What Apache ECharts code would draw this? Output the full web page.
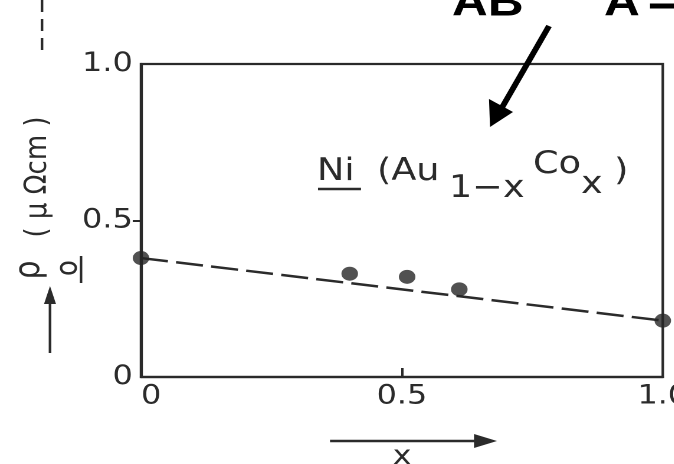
<!DOCTYPE html>
<html>
<head>
<meta charset="utf-8">
<script src="https://cdn.jsdelivr.net/npm/echarts@6/dist/echarts.min.js"></script>
<style>
  html, body { margin: 0; padding: 0; background: #ffffff; overflow: hidden; width: 674px; height: 464px; }
  /* the figure is set in a slightly extended (wide) face, so the drawing is widened as a whole */
  #chart { height: 464px; transform-origin: 0 0; }
</style>
</head>
<body>
<div id="chart"></div>
<script>
// Residual resistivity of Ni in Au(1-x)Co(x) hosts
const xTicks = [0, 0.5, 1.0];
const xTickLabels = ['0', '0.5', '1.0'];
const yTicks = [0, 0.5, 1.0];
const yTickLabels = ['0', '0.5', '1.0'];

// measured points
const concX = [0, 0.40, 0.51, 0.61, 1.0];
const rhoMeasured = [0.38, 0.33, 0.32, 0.28, 0.18];

// dashed trend line end points
const trendX = [0, 1.0];
const trendRho = [0.38, 0.18];

const WIDEN = 1.18;           // horizontal widening of the whole figure
const PAGE_W = 674;
const INK = '#2b2b2b';
const AXIS = '#2a2a2a';
const FONT = '"DejaVu Sans", sans-serif';

// page x position -> drawing x position (before widening)
const px = v => v / WIDEN;

const el = document.getElementById('chart');
el.style.width = (PAGE_W / WIDEN) + 'px';
el.style.transform = 'scaleX(' + WIDEN + ')';

function labelFor(ticks, labels) {
  return function (v) {
    for (let i = 0; i < ticks.length; i++) {
      if (Math.abs(ticks[i] - v) < 1e-9) return labels[i];
    }
    return '';
  };
}

function txt(x, y, text, size, align, extra) {
  return Object.assign({
    type: 'text', x: px(x), y: y,
    style: { text: text, fontSize: size, fontFamily: FONT, fill: INK, align: align || 'left', verticalAlign: 'middle' }
  }, extra || {});
}
function seg(x1, y1, x2, y2, w, color, dash) {
  const s = { stroke: color || INK, lineWidth: w || 2.2 };
  if (dash) s.lineDash = dash;
  return { type: 'line', shape: { x1: px(x1), y1: y1, x2: px(x2), y2: y2 }, style: s };
}
function tri(points, color) {
  return { type: 'polygon', shape: { points: points.map(p => [px(p[0]), p[1]]) }, style: { fill: color || INK } };
}

const chart = echarts.init(el, null, { renderer: 'canvas', devicePixelRatio: 2 });

const option = {
  backgroundColor: '#ffffff',
  animation: false,
  grid: {
    left: px(141), right: px(11), top: 64, bottom: 87,
    outerBoundsMode: 'none',
    containLabel: false,
    show: true, borderColor: AXIS, borderWidth: 2.2,
    backgroundColor: 'transparent'
  },
  xAxis: {
    type: 'value', min: 0, max: 1, interval: 0.5,
    axisLine: { show: true, lineStyle: { color: AXIS, width: 2.2 } },
    axisTick: { show: true, inside: true, length: 9, customValues: [0.5],
                lineStyle: { color: AXIS, width: 2 } },
    axisLabel: { show: true, margin: 6, fontSize: 27, color: INK, fontFamily: FONT,
                 alignMinLabel: 'left', hideOverlap: false,
                 formatter: labelFor(xTicks, xTickLabels) },
    splitLine: { show: false }
  },
  yAxis: {
    type: 'value', min: 0, max: 1, interval: 0.5,
    axisLine: { show: true, lineStyle: { color: AXIS, width: 2.2 } },
    axisTick: { show: true, inside: false, length: 7, customValues: [0.5],
                lineStyle: { color: AXIS, width: 2 } },
    axisLabel: { show: true, margin: 7, fontSize: 27, color: INK, fontFamily: FONT,
                 formatter: labelFor(yTicks, yTickLabels) },
    splitLine: { show: false }
  },
  series: [
    {
      type: 'line',
      data: trendX.map((x, i) => [x, trendRho[i]]),
      showSymbol: false,
      symbol: 'none',
      lineStyle: { color: INK, width: 2.5, type: [23, 7] },
      z: 2
    },
    {
      type: 'scatter',
      data: concX.map((x, i) => [x, rhoMeasured[i]]),
      symbol: 'circle',
      symbolSize: [14, 14],
      itemStyle: { color: '#262626' },
      clip: false,
      z: 3
    }
  ],
  graphic: [
    // y-axis title, reading upward
    txt(38, 177, '( μ Ωcm )', 26, 'center', { rotation: Math.PI / 2 }),
    txt(30, 270, 'ρ', 30, 'center', { rotation: Math.PI / 2 }),
    txt(69, 268, 'o', 26, 'center', { rotation: Math.PI / 2 }),
    seg(81, 256, 81, 283, 2.2),
    // upward arrow under the y title
    seg(50, 353, 50, 298, 2.2),
    tri([[50, 286], [44, 304], [56, 304]]),

    // x-axis title with arrow
    seg(330, 441, 482, 441, 2.5),
    tri([[497, 441], [474, 434], [474, 448]]),
    txt(402, 457, 'x', 27, 'center'),

    // system label: Ni (Au1-x Cox)
    txt(317, 172, 'Ni', 31),
    seg(318, 189, 361, 189, 2.5),
    txt(377, 172, '(Au', 31),
    txt(449, 189, '1−x', 31),
    txt(533, 165, 'Co', 31),
    txt(581, 185, 'x', 31),
    txt(614, 172, ')', 31),

    // pointer arrow from the heading
    seg(549, 26, 500, 111, 5, '#000'),
    tri([[490, 127], [489, 99], [513, 112]], '#000'),

    // heading (runs off the top edge)
    { type: 'text', x: px(452), y: 25,
      style: { text: 'AB', fontSize: 42, fontWeight: 'bold', fontFamily: '"Liberation Sans", sans-serif', fill: '#000', align: 'left', verticalAlign: 'bottom' } },
    { type: 'text', x: px(604), y: 25,
      style: { text: 'A', fontSize: 42, fontWeight: 'bold', fontFamily: '"Liberation Sans", sans-serif', fill: '#000', align: 'left', verticalAlign: 'bottom' } },
    seg(650, 6, 674, 6, 5, '#000'),

    // dashed guide at the upper left
    seg(42, 0, 42, 50, 2.2, INK, [12, 7])
  ]
};

chart.setOption(option);
</script>
</body>
</html>
